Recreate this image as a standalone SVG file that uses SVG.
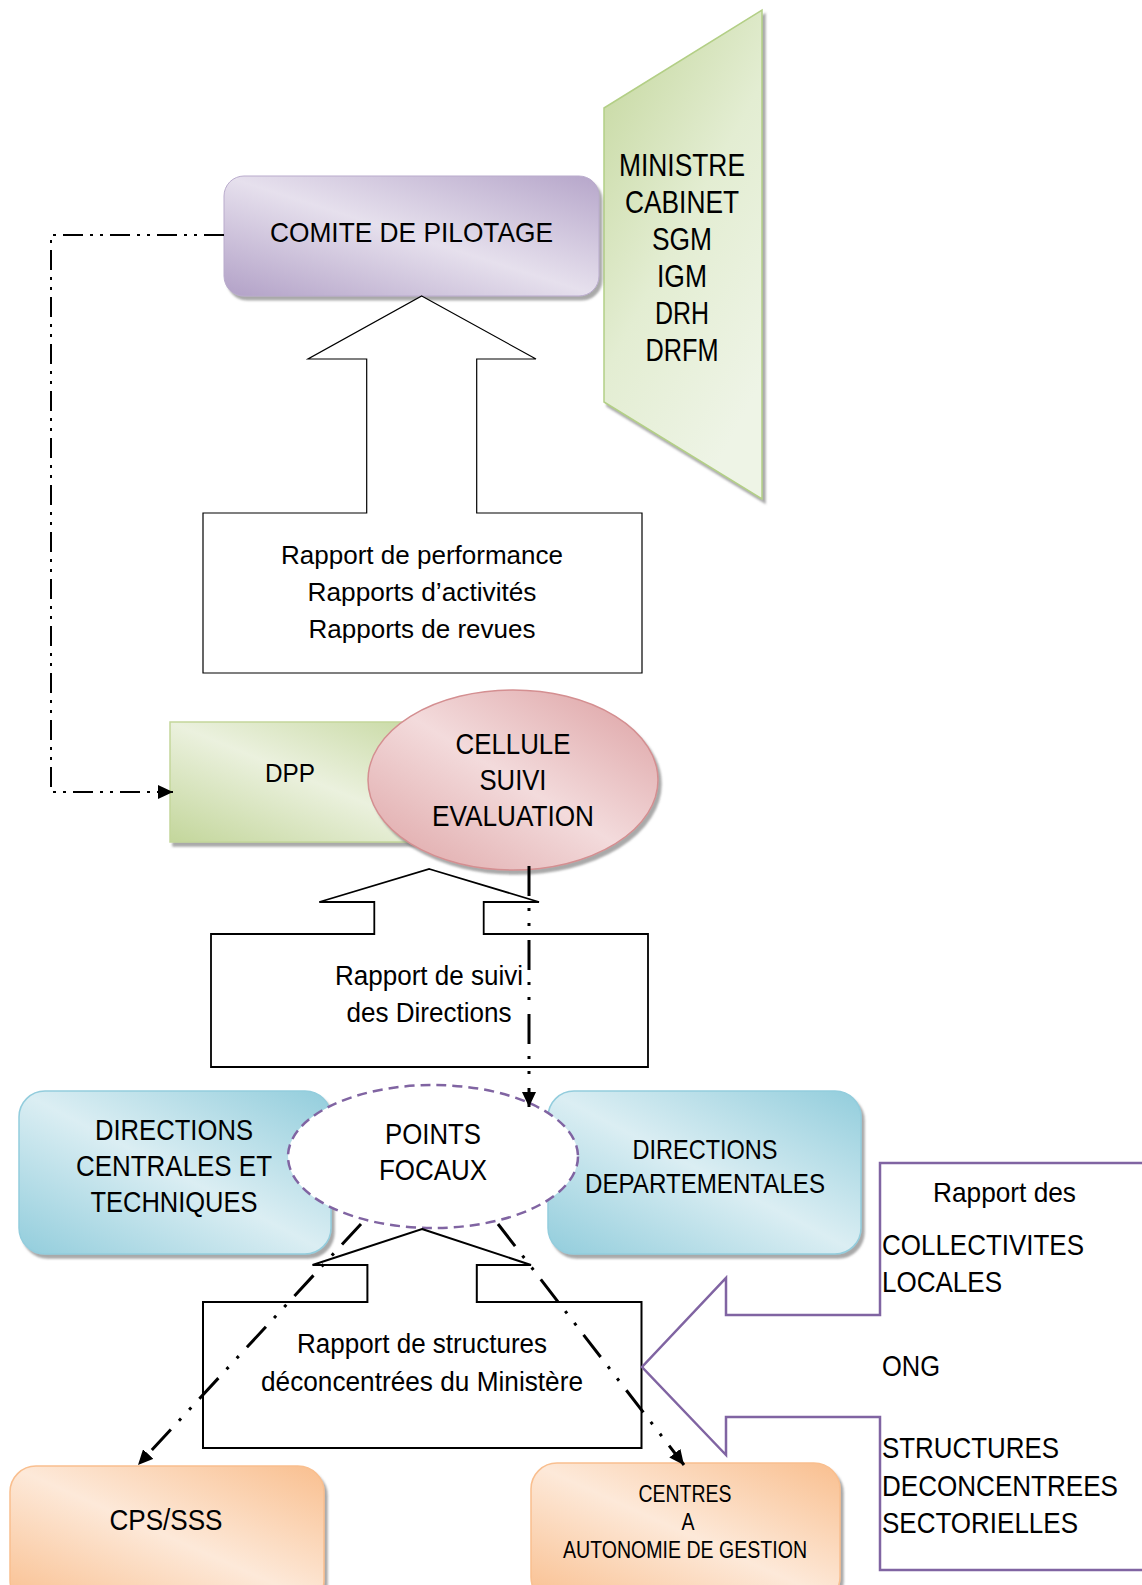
<svg xmlns="http://www.w3.org/2000/svg" width="1142" height="1585" viewBox="0 0 1142 1585">
<defs>
<style>
text{font-family:"Liberation Sans",Arial,sans-serif;fill:#000;}
.c{text-anchor:middle;}
.blk{fill:#fff;stroke:#000;stroke-linejoin:miter;}
.conn{fill:none;stroke:#000;}
</style>
<linearGradient id="gPurple" x1="0" y1="1" x2="1" y2="0">
<stop offset="0" stop-color="#b2a1c7"/><stop offset="0.5" stop-color="#e6e0ed"/><stop offset="1" stop-color="#b6a6ca"/>
</linearGradient>
<linearGradient id="gGreen" x1="0" y1="1" x2="1" y2="0">
<stop offset="0" stop-color="#c3d69b"/><stop offset="0.5" stop-color="#ebf1de"/><stop offset="1" stop-color="#c3d69b"/>
</linearGradient>
<linearGradient id="gTrap" x1="0" y1="0" x2="0.6" y2="1">
<stop offset="0" stop-color="#c3d69b"/><stop offset="0.55" stop-color="#e3edd2"/><stop offset="1" stop-color="#eef4e6"/>
</linearGradient>
<linearGradient id="gPink" x1="0" y1="1" x2="1" y2="0">
<stop offset="0" stop-color="#dea4a5"/><stop offset="0.5" stop-color="#f3dbdc"/><stop offset="1" stop-color="#dc9fa1"/>
</linearGradient>
<linearGradient id="gBlue" x1="0" y1="1" x2="1" y2="0">
<stop offset="0" stop-color="#92cddc"/><stop offset="0.5" stop-color="#dbeef3"/><stop offset="1" stop-color="#92cddc"/>
</linearGradient>
<linearGradient id="gOrange" x1="0" y1="1" x2="1" y2="0">
<stop offset="0" stop-color="#f9bf8f"/><stop offset="0.5" stop-color="#fde9d9"/><stop offset="1" stop-color="#f9bf8f"/>
</linearGradient>
<filter id="shadow" x="-10%" y="-10%" width="125%" height="125%">
<feDropShadow dx="3" dy="4" stdDeviation="1" flood-color="#6f6f6f" flood-opacity="0.6"/>
</filter>
<marker id="arr" viewBox="0 0 15 14" markerUnits="userSpaceOnUse" markerWidth="15" markerHeight="14" refX="15" refY="7" orient="auto">
<path d="M0,0 L15,7 L0,14 z" fill="#000"/>
</marker>
</defs>

<g id="ministre">
<polygon points="604,108 762,10 762,499 604,402" fill="url(#gTrap)" stroke="#b3cf86" stroke-width="1.5" filter="url(#shadow)"/>
<text class="c" x="682" y="176" font-size="32" textLength="126" lengthAdjust="spacingAndGlyphs">MINISTRE</text>
<text class="c" x="682" y="213" font-size="32" textLength="114" lengthAdjust="spacingAndGlyphs">CABINET</text>
<text class="c" x="682" y="250" font-size="32" textLength="60" lengthAdjust="spacingAndGlyphs">SGM</text>
<text class="c" x="682" y="287" font-size="32" textLength="50" lengthAdjust="spacingAndGlyphs">IGM</text>
<text class="c" x="682" y="324" font-size="32" textLength="54" lengthAdjust="spacingAndGlyphs">DRH</text>
<text class="c" x="682" y="361" font-size="32" textLength="73" lengthAdjust="spacingAndGlyphs">DRFM</text>
</g>

<g id="comite">
<rect x="224" y="176" width="375" height="120" rx="20" fill="url(#gPurple)" stroke="#b9abcc" stroke-width="1" filter="url(#shadow)"/>
<text class="c" x="411.5" y="242" font-size="28" textLength="283" lengthAdjust="spacingAndGlyphs">COMITE DE PILOTAGE</text>
</g>

<g id="rapports-performance">
<polygon class="blk" stroke-width="1.2" points="421.7,296 536,359 476.7,359 476.7,513 642,513 642,673 203,673 203,513 366.7,513 366.7,359 308,359"/>
<text class="c" x="422" y="564" font-size="26" textLength="282" lengthAdjust="spacingAndGlyphs">Rapport de performance</text>
<text class="c" x="422" y="601" font-size="26" textLength="229" lengthAdjust="spacingAndGlyphs">Rapports d’activités</text>
<text class="c" x="422" y="638" font-size="26" textLength="227" lengthAdjust="spacingAndGlyphs">Rapports de revues</text>
</g>

<g id="dpp">
<rect x="170" y="722" width="290" height="120" fill="url(#gGreen)" stroke="#c3d69b" stroke-width="1.5" filter="url(#shadow)"/>
<text class="c" x="290" y="782" font-size="26" textLength="50" lengthAdjust="spacingAndGlyphs">DPP</text>
</g>

<g id="rapport-suivi">
<polygon class="blk" stroke-width="1.8" points="429.3,869 539,902 483.7,902 483.7,934 648,934 648,1067 211,1067 211,934 374.3,934 374.3,902 319.3,902"/>
<text class="c" x="429" y="985" font-size="27" textLength="188" lengthAdjust="spacingAndGlyphs">Rapport de suivi</text>
<text class="c" x="429" y="1022" font-size="27" textLength="165" lengthAdjust="spacingAndGlyphs">des Directions</text>
</g>

<g id="cellule">
<ellipse cx="513" cy="780" rx="145" ry="90" fill="url(#gPink)" stroke="#d48f91" stroke-width="1.5" filter="url(#shadow)"/>
<text class="c" x="513" y="754" font-size="30" textLength="115" lengthAdjust="spacingAndGlyphs">CELLULE</text>
<text class="c" x="513" y="790" font-size="30" textLength="67" lengthAdjust="spacingAndGlyphs">SUIVI</text>
<text class="c" x="513" y="826" font-size="30" textLength="162" lengthAdjust="spacingAndGlyphs">EVALUATION</text>
</g>

<g id="directions-centrales">
<rect x="19" y="1091" width="312" height="163" rx="26" fill="url(#gBlue)" stroke="#93cddd" stroke-width="1.5" filter="url(#shadow)"/>
<text class="c" x="174" y="1140" font-size="30" textLength="158" lengthAdjust="spacingAndGlyphs">DIRECTIONS</text>
<text class="c" x="174" y="1176" font-size="30" textLength="196" lengthAdjust="spacingAndGlyphs">CENTRALES ET</text>
<text class="c" x="174" y="1212" font-size="30" textLength="167" lengthAdjust="spacingAndGlyphs">TECHNIQUES</text>
</g>

<g id="directions-departementales">
<rect x="548" y="1091" width="313" height="163" rx="26" fill="url(#gBlue)" stroke="#93cddd" stroke-width="1.5" filter="url(#shadow)"/>
<text class="c" x="705" y="1159" font-size="28" textLength="145" lengthAdjust="spacingAndGlyphs">DIRECTIONS</text>
<text class="c" x="705" y="1193" font-size="28" textLength="240" lengthAdjust="spacingAndGlyphs">DEPARTEMENTALES</text>
</g>

<g id="points-focaux">
<ellipse cx="433" cy="1156.5" rx="145" ry="71.5" fill="#fff" stroke="#8064a2" stroke-width="2.5" stroke-dasharray="10 6"/>
<text class="c" x="433" y="1144" font-size="30" textLength="96" lengthAdjust="spacingAndGlyphs">POINTS</text>
<text class="c" x="433" y="1180" font-size="30" textLength="108" lengthAdjust="spacingAndGlyphs">FOCAUX</text>
</g>

<g id="rapport-structures">
<polygon class="blk" stroke-width="2" points="422,1229 531,1265 476.8,1265 476.8,1302 641.5,1302 641.5,1448 203,1448 203,1302 367.4,1302 367.4,1265 312.5,1265"/>
<text class="c" x="422" y="1353" font-size="27" textLength="250" lengthAdjust="spacingAndGlyphs">Rapport de structures</text>
<text class="c" x="422" y="1391" font-size="27" textLength="322" lengthAdjust="spacingAndGlyphs">déconcentrées du Ministère</text>
</g>

<g id="cps">
<rect x="10" y="1466" width="314" height="140" rx="26" fill="url(#gOrange)" stroke="#f9bf8f" stroke-width="1.5" filter="url(#shadow)"/>
<text class="c" x="166" y="1530" font-size="30" textLength="113" lengthAdjust="spacingAndGlyphs">CPS/SSS</text>
</g>

<g id="centres">
<rect x="531" y="1463" width="309" height="140" rx="26" fill="url(#gOrange)" stroke="#f9bf8f" stroke-width="1.5" filter="url(#shadow)"/>
<text class="c" x="685" y="1502" font-size="23" textLength="93" lengthAdjust="spacingAndGlyphs">CENTRES</text>
<text class="c" x="688" y="1530" font-size="23" textLength="13" lengthAdjust="spacingAndGlyphs">A</text>
<text class="c" x="685" y="1558" font-size="23" textLength="244" lengthAdjust="spacingAndGlyphs">AUTONOMIE DE GESTION</text>
</g>

<g id="collectivites">
<path d="M1150,1163 H880 V1315 H726 V1278 L642,1367 L726,1455 V1417 H880 V1570 H1150" fill="none" stroke="#8064a2" stroke-width="2.5"/>
<text x="933" y="1202" font-size="28" textLength="143" lengthAdjust="spacingAndGlyphs">Rapport des</text>
<text x="882" y="1255" font-size="30" textLength="202" lengthAdjust="spacingAndGlyphs">COLLECTIVITES</text>
<text x="882" y="1292" font-size="30" textLength="120" lengthAdjust="spacingAndGlyphs">LOCALES</text>
<text x="882" y="1376" font-size="30" textLength="58" lengthAdjust="spacingAndGlyphs">ONG</text>
<text x="882" y="1458" font-size="30" textLength="177" lengthAdjust="spacingAndGlyphs">STRUCTURES</text>
<text x="882" y="1496" font-size="30" textLength="236" lengthAdjust="spacingAndGlyphs">DECONCENTREES</text>
<text x="882" y="1533" font-size="30" textLength="196" lengthAdjust="spacingAndGlyphs">SECTORIELLES</text>
</g>

<g id="connectors">
<path class="conn" d="M224,235 H51 V792 H173" stroke-width="2" stroke-dasharray="20 7 3 7 3 7" marker-end="url(#arr)"/>
<path class="conn" d="M529,866 V1107" stroke-width="3" stroke-dasharray="30 12 3 12 3 14" marker-end="url(#arr)"/>
<path class="conn" d="M361,1224 L138,1465" stroke-width="3" stroke-dasharray="28 12 3 12 3 12" marker-end="url(#arr)"/>
<path class="conn" d="M498,1224 L684,1465" stroke-width="3" stroke-dasharray="28 12 3 12 3 12" marker-end="url(#arr)"/>
</g>
</svg>
